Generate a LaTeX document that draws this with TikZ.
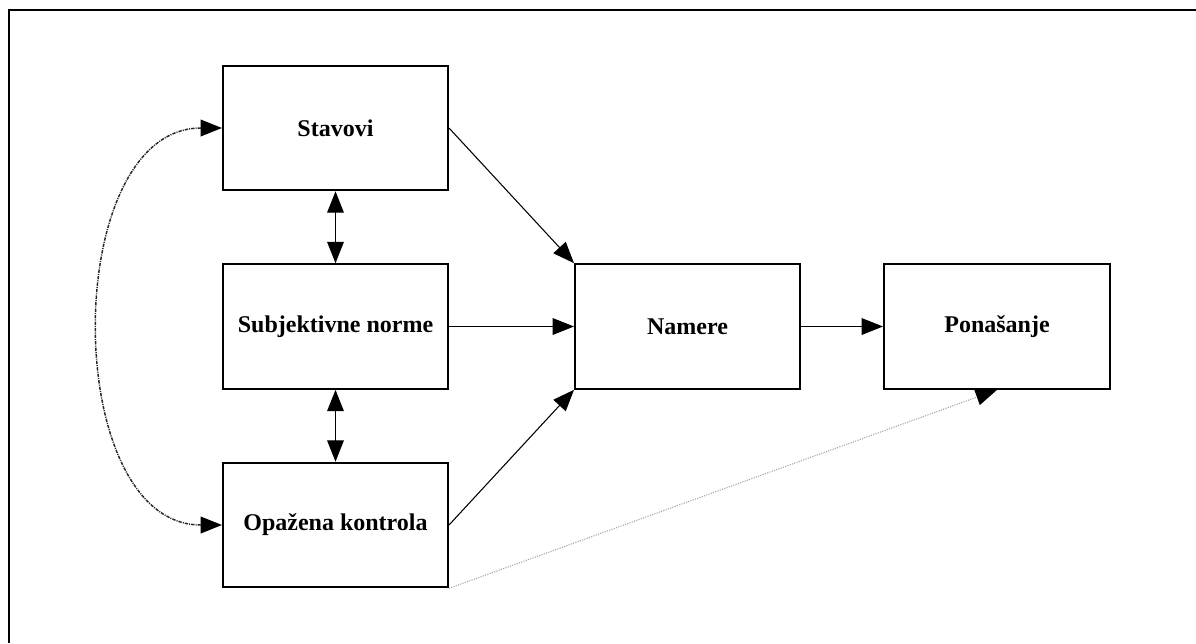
\documentclass[tikz,border=0pt]{standalone}
\usepackage{fontspec}
\setmainfont{Liberation Serif}
\usetikzlibrary{arrows.meta}
\begin{document}
\begin{tikzpicture}[x=0.75pt,y=-0.75pt,
  box/.style={draw, line width=1.5pt, minimum width=168.75pt, minimum height=93.5pt,
    inner sep=0pt, font=\fontsize{18}{20}\selectfont\bfseries},
  conn/.style={line width=0.8pt, -{Triangle[length=16pt,width=12.5pt]}},
  both/.style={line width=0.8pt, {Triangle[length=16pt,width=12.5pt]}-{Triangle[length=16pt,width=12.5pt]}},
  weak/.style={line width=0.8pt, gray!75, densely dotted,
    -{Triangle[length=16pt,width=12.5pt,color=black]}},
  corr/.style={line width=1.1pt, black!85, dash pattern=on 2.5pt off 0.8pt on 0.8pt off 0.8pt,
    {Triangle[length=16pt,width=12.5pt,color=black]}-{Triangle[length=16pt,width=12.5pt,color=black]}}]
\useasboundingbox (0,0) rectangle (1196,643);
% outer frame
\draw[line width=2.2pt] (1196,10) -- (9,10) -- (9,643);

% boxes
\node[box] (st) at (335.5,128) {Stavovi};
\node[box] (sn) at (335.5,326.5) {Subjektivne norme};
\node[box] (ok) at (335.5,525) {Opažena kontrola};
\node[box] (nm) at (687.5,326.5) {Namere};
\node[box, minimum width=169.5pt] (po) at (997,326.5) {Ponašanje};

% connectors
\draw[conn] (st.east) -- (nm.north west);
\draw[conn] (sn.east) -- (nm.west);
\draw[conn] (ok.east) -- (nm.south west);
\draw[conn] (nm.east) -- (po.west);
\draw[both] (st.south) -- (sn.north);
\draw[both] (sn.south) -- (ok.north);
\draw[weak] (ok.south east) -- (po.south);
\draw[corr] (st.west) .. controls (60,128) and (60,525) .. (ok.west);
\end{tikzpicture}
\end{document}
